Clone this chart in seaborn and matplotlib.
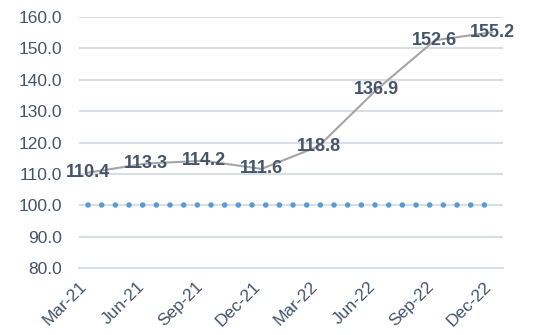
import matplotlib
matplotlib.use("Agg")
import matplotlib.pyplot as plt
import matplotlib.dates as mdates
import matplotlib.ticker as mticker
import pandas as pd
import seaborn as sns

# values
months = ["2021-03-15", "2021-06-15", "2021-09-15", "2021-12-15",
          "2022-03-15", "2022-06-15", "2022-09-15", "2022-12-15"]
index_values = [110.4, 113.3, 114.2, 111.6, 118.8, 136.9, 152.6, 155.2]
base_values = [100, 100, 100, 100, 100, 100, 100, 100]
tick_months = ["2021-03-01", "2021-06-01", "2021-09-01", "2021-12-01",
               "2022-03-01", "2022-06-01", "2022-09-01", "2022-12-01"]

df = pd.DataFrame({"month": pd.to_datetime(months),
                   "index": index_values,
                   "base": base_values})

sns.set_style("white")
plt.rcParams["font.family"] = ["Liberation Sans", "DejaVu Sans"]

text_col = "#44546A"
grid_col = "#D9DEE6"

fig = plt.figure(figsize=(5.33, 3.35), dpi=100)
ax = fig.add_axes([0.148, 0.2, 0.796, 0.749])

sns.lineplot(data=df, x="month", y="base", ax=ax, color="#5B9BD5",
             linewidth=4.0, zorder=3)
line = ax.get_lines()[-1]
line.set_dashes((0.01, 2.45))
line.set_dash_capstyle("round")

sns.lineplot(data=df, x="month", y="index", ax=ax, color="#A5A5A5",
             linewidth=1.5, zorder=4)

for m, v in zip(df["month"], df["index"]):
    ax.text(m, v, f"{v:.1f}", ha="center", va="center", fontsize=13,
            fontweight="bold", color=text_col, zorder=5)

ax.set_xlim(pd.Timestamp("2021-03-01"), pd.Timestamp("2023-01-01"))
ax.set_ylim(80, 160)
ax.yaxis.set_major_locator(mticker.MultipleLocator(10))
ax.yaxis.set_major_formatter(mticker.FormatStrFormatter("%.1f"))
ax.set_xticks(pd.to_datetime(tick_months))
ax.xaxis.set_major_formatter(mdates.DateFormatter("%b-%y"))

ax.grid(axis="y", color=grid_col, linewidth=1.5)
ax.set_axisbelow(True)
for s in ["top", "right", "left"]:
    ax.spines[s].set_visible(False)
ax.spines["bottom"].set_color(grid_col)
ax.spines["bottom"].set_linewidth(1.5)

ax.tick_params(axis="y", length=0, pad=12, labelsize=12.5, labelcolor=text_col)
ax.tick_params(axis="x", length=5, width=1.2, color=grid_col, direction="out",
               pad=3, labelsize=12.5, labelcolor=text_col)
for lbl in ax.get_xticklabels():
    lbl.set_rotation(45)
    lbl.set_ha("right")
    lbl.set_rotation_mode("anchor")

ax.set_xlabel("")
ax.set_ylabel("")

fig.savefig("out.png", dpi=100)
plt.close()
